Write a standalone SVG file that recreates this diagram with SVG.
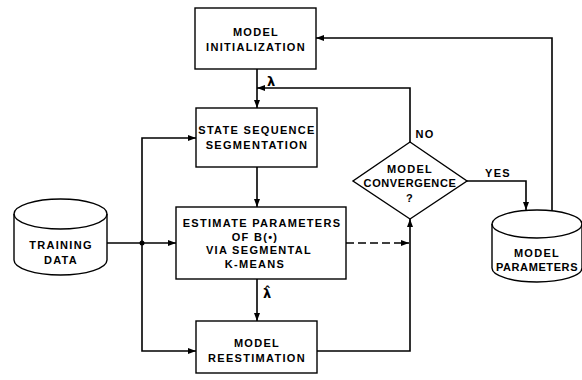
<svg xmlns="http://www.w3.org/2000/svg" width="582" height="380" viewBox="0 0 582 380">
<style>
.box{fill:#fff;stroke:#000;stroke-width:1.4}
.ln{fill:none;stroke:#000;stroke-width:1.6}
.dash{fill:none;stroke:#000;stroke-width:1.6;stroke-dasharray:8 4}
text{font-family:"Liberation Sans",Arial,sans-serif;font-size:11px;font-weight:bold;letter-spacing:1.3px;text-anchor:middle;fill:#000}
.gk{font-family:"DejaVu Sans",sans-serif;font-size:13px;letter-spacing:0;font-weight:bold}
</style>
<defs>
<marker id="ah" markerWidth="8" markerHeight="6" refX="8" refY="3" orient="auto" markerUnits="userSpaceOnUse">
<path d="M0,0 L8,3 L0,6 z" fill="#000"/>
</marker>
</defs>
<rect width="582" height="380" fill="#fff"/>
<g id="connectors">
<path class="ln" d="M257,69 V108" marker-end="url(#ah)"/>
<path class="ln" d="M410,142 V88 H257" marker-end="url(#ah)"/>
<path class="ln" d="M257,167 V207" marker-end="url(#ah)"/>
<path class="ln" d="M257,279 V321" marker-end="url(#ah)"/>
<path class="ln" d="M107,243 H176" marker-end="url(#ah)"/>
<path class="ln" d="M142,243 V138 H196" marker-end="url(#ah)"/>
<path class="ln" d="M142,243 V351 H196" marker-end="url(#ah)"/>
<circle cx="142" cy="243" r="2.5" fill="#000"/>
<path class="dash" d="M346,243 H409" marker-end="url(#ah)"/>
<path class="ln" d="M317,351 H410 V219" marker-end="url(#ah)"/>
<path class="ln" d="M467,181 H526 V210" marker-end="url(#ah)"/>
<path class="ln" d="M552,211 V38 H316" marker-end="url(#ah)"/>
<text class="gk" x="271" y="86">λ</text>
<text class="gk" x="267" y="298">λ̂</text>
<text x="425" y="138">NO</text>
<text x="498" y="177">YES</text>
</g>
<g id="model-init">
<rect class="box" x="195" y="8" width="121" height="61"/>
<text x="256" y="36">MODEL</text>
<text x="256" y="51">INITIALIZATION</text>
</g>
<g id="state-seq">
<rect class="box" x="196" y="108" width="121" height="59"/>
<text x="257" y="134">STATE SEQUENCE</text>
<text x="257" y="149">SEGMENTATION</text>
</g>
<g id="estimate">
<rect class="box" x="176" y="207" width="170" height="72"/>
<text x="262" y="227">ESTIMATE PARAMETERS</text>
<text x="255" y="241">OF B(•)</text>
<text x="259" y="254">VIA SEGMENTAL</text>
<text x="255" y="268">K-MEANS</text>
</g>
<g id="reestimation">
<rect class="box" x="196" y="321" width="121" height="52"/>
<text x="257" y="347">MODEL</text>
<text x="257" y="362">REESTIMATION</text>
</g>
<g id="convergence">
<path class="box" d="M410,142 L467,181 L410,219 L353,181 z"/>
<text x="410" y="173">MODEL</text>
<text x="410" y="187" style="letter-spacing:0.6px">CONVERGENCE</text>
<text x="410" y="202">?</text>
</g>
<g id="training-data">
<path class="box" d="M14,214 A46.5,15 0 0 1 107,214 V260 A46.5,15 0 0 1 14,260 z"/>
<path class="ln" style="stroke-width:1.4" d="M14,214 A46.5,15 0 0 0 107,214"/>
<text x="61" y="249">TRAINING</text>
<text x="61" y="264">DATA</text>
</g>
<g id="model-params">
<path class="box" d="M492,224 A45,14 0 0 1 582,224 V268 A45,14 0 0 1 492,268 z"/>
<path class="ln" style="stroke-width:1.4" d="M492,224 A45,14 0 0 0 582,224"/>
<text x="537" y="257">MODEL</text>
<text x="537" y="271" style="letter-spacing:0.6px">PARAMETERS</text>
</g>
</svg>
